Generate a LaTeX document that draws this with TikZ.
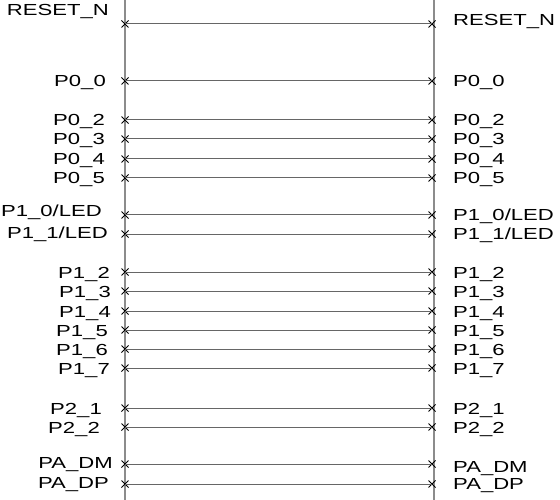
\documentclass[tikz,border=0pt]{standalone}
\usepackage{fontspec}
\newfontfamily\pinfont[FakeStretch=1.38]{Liberation Sans}
\usetikzlibrary{shapes.misc}
\tikzset{
  pinx/.style={cross out,draw=black,line width=1pt,minimum size=6pt,inner sep=0pt},
  pinlbl/.style={font=\pinfont\fontsize{16}{18}\selectfont,inner sep=0pt},
  rail/.style={draw=gray!90,line width=1.6pt},
  wire/.style={draw=black!60,line width=1pt}
}
\begin{document}
\begin{tikzpicture}[x=1pt,y=-1pt]
  \useasboundingbox (0,0) rectangle (560,500);

  % the two rails
  \coordinate (railLtop) at (125,0);
  \coordinate (railLbot) at (125,500);
  \coordinate (railRtop) at (434,0);
  \coordinate (railRbot) at (434,500);
  \draw[rail] (railLtop) -- (railLbot);
  \draw[rail] (railRtop) -- (railRbot);

  % pins: name / wire y / text / left label end / left label y / right label y
  \foreach \pin/\y/\txt/\lx/\ly/\ry in {
      rst/24/{RESET\_N}/109/10/20,
      p00/81/{P0\_0}/106/81/81,
      p02/120/{P0\_2}/105/120/120,
      p03/139/{P0\_3}/105/139/139,
      p04/159/{P0\_4}/105/159/159,
      p05/178/{P0\_5}/105/178/178,
      p10/215/{P1\_0/LED}/102/211/215,
      p11/234/{P1\_1/LED}/108/233/234,
      p12/272/{P1\_2}/110/272/272,
      p13/291/{P1\_3}/111/291/291,
      p14/311/{P1\_4}/111/311/311,
      p15/330/{P1\_5}/108/330/330,
      p16/349/{P1\_6}/108/349/349,
      p17/368/{P1\_7}/110/368/368,
      p21/408/{P2\_1}/102/408/408,
      p22/427/{P2\_2}/100/427/427,
      pdm/464/{PA\_DM}/113/462/466,
      pdp/484/{PA\_DP}/109/482/483}{
    \node[pinx] (\pin L) at (125,\y) {};
    \node[pinx] (\pin R) at (432,\y) {};
    \draw[wire] (\pin L.center) -- (\pin R.center);
    \node[pinlbl,anchor=base east] (\pin Ltxt) at (\lx,\ly+6) {\txt};
    \node[pinlbl,anchor=base west] (\pin Rtxt) at (453,\ry+6) {\txt};
  }
\end{tikzpicture}
\end{document}
